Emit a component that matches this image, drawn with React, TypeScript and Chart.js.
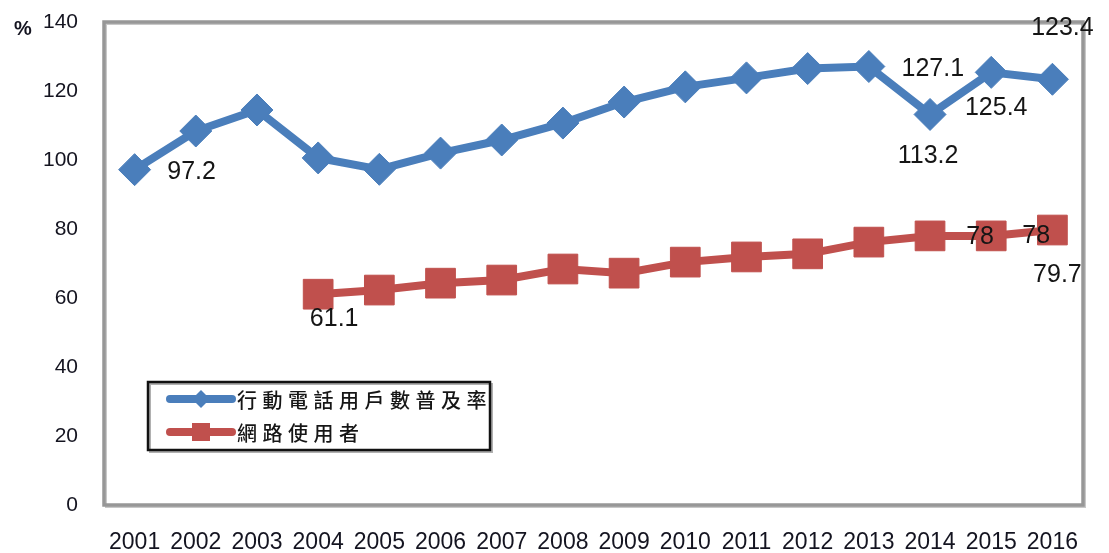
import React, { useEffect, useRef } from "react";
import { Chart, registerables } from "chart.js";

Chart.register(...registerables);

const years = ["2001", "2002", "2003", "2004", "2005", "2006", "2007", "2008", "2009", "2010", "2011", "2012", "2013", "2014", "2015", "2016"];
const mobileRate = [97.2, 108.4, 114.5, 100.6, 97.3, 102.0, 105.8, 110.7, 116.8, 121.2, 123.8, 126.5, 127.1, 113.2, 125.4, 123.4];
const internetUsers = [null, null, null, 61.1, 62.3, 64.3, 65.2, 68.4, 67.2, 70.4, 71.9, 72.8, 76.2, 78, 78, 79.7];
const seriesNames = ["行動電話用戶數普及率", "網路使用者"];
const mobileLabelIdx = [0, 12, 13, 14, 15];
const internetLabelIdx = [3, 13, 14, 15];
const yMin = 0;
const yMax = 140;
const yStep = 20;
const yUnit = "%";

const BLUE = "#4a7ebb";
const RED = "#c0504d";
const TEXT = "#141420";

// pixel offsets of the value labels relative to their points (styling only)
const labelOffsets: Record<string, [number, number]> = {
  "0-0": [57, 2],
  "0-12": [64, 3],
  "0-13": [-2, 42],
  "0-14": [5, 36],
  "0-15": [10, -51],
  "1-3": [16, 25],
  "1-13": [50, 1],
  "1-14": [45, 0],
  "1-15": [5, 45],
};

const framePlugin = {
  id: "frame",
  beforeDatasetsDraw(chart: any) {
    const { ctx, chartArea: a } = chart;
    ctx.save();
    ctx.strokeStyle = "#c8c8c8";
    ctx.lineWidth = 2;
    ctx.strokeRect(a.left + 2, a.top + 2, a.right - a.left, a.bottom - a.top);
    ctx.strokeStyle = "#979797";
    ctx.lineWidth = 3.5;
    ctx.strokeRect(a.left, a.top, a.right - a.left, a.bottom - a.top);
    ctx.restore();
  },
  afterDraw(chart: any) {
    const { ctx } = chart;
    ctx.save();
    ctx.fillStyle = TEXT;
    ctx.font = "bold 20px 'Liberation Sans', Arial, sans-serif";
    ctx.textAlign = "center";
    ctx.textBaseline = "middle";
    ctx.fillText(yUnit, 23, 29);
    ctx.restore();
  },
};

const valueLabelPlugin = {
  id: "valueLabels",
  afterDatasetsDraw(chart: any) {
    const { ctx } = chart;
    ctx.save();
    ctx.fillStyle = "#151515";
    ctx.font = "25px 'Liberation Sans', Arial, sans-serif";
    ctx.textAlign = "center";
    ctx.textBaseline = "middle";
    const sets: [number, number[]][] = [
      [0, mobileLabelIdx],
      [1, internetLabelIdx],
    ];
    sets.forEach(([ds, idxs]) => {
      const meta = chart.getDatasetMeta(ds);
      const values = chart.data.datasets[ds].data;
      idxs.forEach((i) => {
        const pt = meta.data[i];
        if (!pt) return;
        const off = labelOffsets[`${ds}-${i}`] || [0, -20];
        ctx.fillText(String(values[i]), pt.x + off[0], pt.y + off[1]);
      });
    });
    ctx.restore();
  },
};

const legendPlugin = {
  id: "customLegend",
  afterDraw(chart: any) {
    const { ctx } = chart;
    const bx = 148, by = 382, bw = 342, bh = 68;
    ctx.save();
    ctx.fillStyle = "#ffffff";
    ctx.fillRect(bx, by, bw, bh);
    ctx.strokeStyle = "#b0b0b0";
    ctx.lineWidth = 2;
    ctx.strokeRect(bx + 2, by + 2, bw, bh);
    ctx.strokeStyle = "#111111";
    ctx.lineWidth = 2.5;
    ctx.strokeRect(bx, by, bw, bh);

    const rows = [
      { y: 399, color: BLUE, shape: "diamond", text: chart.data.datasets[0].label },
      { y: 432, color: RED, shape: "square", text: chart.data.datasets[1].label },
    ];
    rows.forEach((r) => {
      ctx.strokeStyle = r.color;
      ctx.fillStyle = r.color;
      ctx.lineWidth = 8;
      ctx.lineCap = "round";
      ctx.beginPath();
      ctx.moveTo(170, r.y);
      ctx.lineTo(232, r.y);
      ctx.stroke();
      ctx.beginPath();
      if (r.shape === "diamond") {
        ctx.moveTo(201 - 9, r.y);
        ctx.lineTo(201, r.y - 9);
        ctx.lineTo(201 + 9, r.y);
        ctx.lineTo(201, r.y + 9);
        ctx.closePath();
        ctx.fill();
      } else {
        ctx.fillRect(201 - 9, r.y - 9, 18, 18);
      }
      ctx.fillStyle = "#161616";
      ctx.font = "500 20px 'Noto Sans CJK TC', sans-serif";
      (ctx as any).letterSpacing = "5.5px";
      ctx.textAlign = "left";
      ctx.textBaseline = "middle";
      ctx.fillText(r.text, 237, r.y + 1);
    });
    ctx.restore();
  },
};

export default function App() {
  const canvasRef = useRef<HTMLCanvasElement | null>(null);

  useEffect(() => {
    const canvas = canvasRef.current;
    if (!canvas) return;
    const chart = new Chart(canvas, {
      type: "line",
      data: {
        labels: years,
        datasets: [
          {
            label: seriesNames[0],
            data: mobileRate,
            borderColor: BLUE,
            backgroundColor: BLUE,
            borderWidth: 8,
            pointStyle: "rectRot",
            pointRadius: 16,
            pointBorderWidth: 1,
            pointBackgroundColor: BLUE,
            pointBorderColor: BLUE,
            tension: 0,
          },
          {
            label: seriesNames[1],
            data: internetUsers,
            borderColor: RED,
            backgroundColor: RED,
            borderWidth: 8,
            pointStyle: "rect",
            pointRadius: 21,
            pointBorderWidth: 1,
            pointBackgroundColor: RED,
            pointBorderColor: RED,
            tension: 0,
          },
        ],
      },
      options: {
        responsive: false,
        animation: false,
        layout: { autoPadding: false, padding: { top: 22, right: 26, left: 0, bottom: 0 } },
        plugins: {
          legend: { display: false },
          tooltip: { enabled: false },
          title: { display: false },
        },
        scales: {
          x: {
            type: "category",
            offset: true,
            grid: { display: false, drawTicks: false },
            border: { display: false },
            ticks: {
              color: TEXT,
              padding: 24,
              maxRotation: 0,
              autoSkip: false,
              font: { family: "'Liberation Sans', Arial, sans-serif", size: 23 },
            },
            afterFit: (s: any) => {
              s.height = 48;
              s.paddingLeft = 0;
              s.paddingRight = 0;
            },
          },
          y: {
            min: yMin,
            max: yMax,
            grid: { display: false, drawTicks: false },
            border: { display: false },
            ticks: {
              stepSize: yStep,
              color: TEXT,
              padding: 26,
              font: { family: "'Liberation Sans', Arial, sans-serif", size: 21 },
            },
            afterFit: (s: any) => {
              s.width = 104;
              s.paddingTop = 0;
              s.paddingBottom = 0;
            },
          },
        },
      },
      plugins: [framePlugin, valueLabelPlugin, legendPlugin],
    } as any);
    return () => chart.destroy();
  }, []);

  return (
    <div style={{ position: "fixed", left: 0, top: 0, width: 1109, height: 553, background: "#ffffff" }}>
      <canvas ref={canvasRef} width={1109} height={553} style={{ display: "block" }} />
    </div>
  );
}
